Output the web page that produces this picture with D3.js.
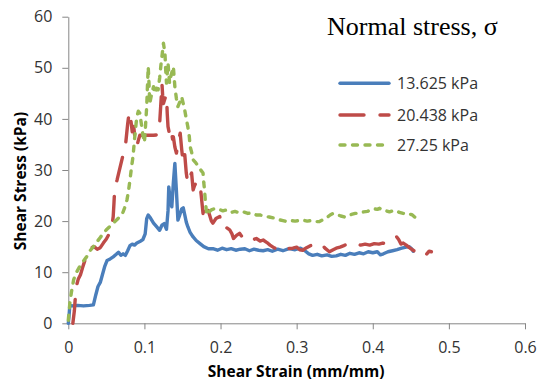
<!DOCTYPE html>
<html>
<head>
<meta charset="utf-8">
<script src="https://cdn.jsdelivr.net/npm/d3@7/dist/d3.min.js"></script>
<style>
  html, body { margin: 0; padding: 0; background: #fff; }
  svg { display: block; }
</style>
</head>
<body>
<svg id="chart" width="540" height="385"></svg>
<script>
// Shear stress vs shear strain for three normal stress levels
const seriesNames = ["13.625 kPa", "20.438 kPa", "27.25 kPa"];
const xTicks = [0, 0.1, 0.2, 0.3, 0.4, 0.5, 0.6];
const yTicks = [0, 10, 20, 30, 40, 50, 60];

// [shear strain (mm/mm), shear stress (kPa)]
const curve13625 = [
  [0,0],[0.001,1.5],[0.002,3.5],[0.006,3.4],[0.012,3.5],[0.02,3.4],[0.028,3.5],[0.033,3.6],
  [0.036,5.5],[0.039,7.2],[0.042,8.0],[0.045,9.6],[0.048,11.2],[0.051,12.3],[0.055,12.6],
  [0.059,13.0],[0.063,13.5],[0.066,13.9],[0.069,13.3],[0.072,13.6],[0.075,13.3],[0.078,14.2],
  [0.081,15.2],[0.084,15.5],[0.087,15.3],[0.090,15.7],[0.094,16.0],[0.098,16.4],[0.101,17.5],
  [0.103,20.5],[0.105,21.2],[0.108,20.6],[0.112,19.6],[0.116,18.9],[0.120,18.2],[0.123,19.2],
  [0.126,19.5],[0.129,18.4],[0.131,22.0],[0.132,26.7],[0.134,24.0],[0.136,22.8],[0.138,27.5],
  [0.140,31.3],[0.142,26.0],[0.144,20.2],[0.146,21.0],[0.149,22.4],[0.151,22.6],[0.153,21.2],
  [0.155,19.8],[0.157,18.9],[0.160,17.8],[0.164,16.9],[0.168,16.2],[0.173,15.6],[0.178,15.0],
  [0.184,14.6],[0.19,14.6],[0.196,14.3],[0.202,14.7],[0.208,14.4],[0.214,14.6],[0.22,14.3],
  [0.226,14.5],[0.232,14.6],[0.238,14.2],[0.244,14.5],[0.25,14.3],[0.256,14.2],[0.262,14.4],
  [0.268,14.1],[0.275,14.5],[0.282,14.2],[0.29,14.6],[0.298,14.4],[0.305,14.7],[0.31,14.3],
  [0.316,13.6],[0.321,13.3],[0.327,13.5],[0.333,13.2],[0.34,13.4],[0.346,13.1],[0.352,13.2],
  [0.358,13.5],[0.364,13.3],[0.37,13.7],[0.376,13.5],[0.382,13.8],[0.388,13.6],[0.394,14.0],
  [0.4,13.8],[0.406,14.0],[0.41,13.4],[0.414,13.6],[0.42,14.0],[0.426,14.2],[0.432,14.4],
  [0.438,14.7],[0.444,14.9],[0.448,15.0],[0.451,14.6],[0.453,14.1]
];

const curve20438 = [
  [0.006,0],[0.008,2.5],[0.009,4.6],[0.011,7.5],[0.013,8.6],[0.016,9.5],[0.019,11.0],[0.022,12.4],
  [0.026,13.2],[0.030,14.8],[0.034,15.0],[0.038,14.5],[0.042,14.8],[0.046,15.7],[0.050,16.5],
  [0.054,17.6],[0.057,18.6],[0.059,20.9],[0.060,23.5],[0.061,26.5],[0.064,28.0],[0.068,30.5],
  [0.072,33.0],[0.075,34.6],[0.078,39.0],[0.080,41.4],[0.082,40.0],[0.084,37.5],[0.086,38.5],
  [0.088,35.5],[0.090,34.6],[0.092,35.8],[0.094,36.8],[0.1,36.8],[0.106,36.8],[0.112,36.8],
  [0.118,36.9],[0.120,39.1],[0.122,44.0],[0.123,47.0],[0.124,44.5],[0.125,43.0],[0.127,44.0],
  [0.129,44.7],[0.130,41.0],[0.131,38.5],[0.133,37.0],[0.135,38.0],[0.137,36.0],[0.138,36.5],
  [0.140,34.5],[0.142,33.3],[0.144,35.0],[0.146,36.5],[0.147,37.2],[0.149,34.0],[0.151,31.3],
  [0.153,33.0],[0.155,29.4],[0.157,27.4],[0.159,28.5],[0.162,29.4],[0.164,26.1],[0.166,27.0],
  [0.169,27.8],[0.173,27.4],[0.175,24.5],[0.177,21.5],[0.180,23.5],[0.182,23.0],[0.185,21.5],
  [0.188,20.0],[0.190,19.6],[0.194,20.5],[0.199,20.9],[0.201,19.5],[0.203,18.6],[0.207,18.8],
  [0.212,18.3],[0.215,17.5],[0.217,16.6],[0.221,17.2],[0.225,17.6],[0.229,16.8],[0.234,16.0],
  [0.240,16.2],[0.247,16.6],[0.252,16.1],[0.256,16.3],[0.261,15.8],[0.265,15.3],[0.270,14.8],
  [0.276,14.5],[0.282,14.0],[0.288,14.6],[0.295,14.7],[0.300,14.9],[0.304,14.4],[0.308,14.3],
  [0.313,14.8],[0.318,15.2],[0.321,15.3],[0.326,15.8],[0.330,15.7],[0.334,15.2],[0.338,14.6],
  [0.343,14.0],[0.348,14.4],[0.352,14.7],[0.357,14.9],[0.362,15.2],[0.368,15.6],[0.373,15.8],
  [0.378,15.7],[0.384,15.3],[0.39,15.5],[0.396,15.3],[0.402,15.6],[0.408,15.5],[0.413,15.7],
  [0.418,15.6],[0.423,15.9],[0.428,16.5],[0.431,17.0],[0.434,16.4],[0.437,15.5],[0.440,15.7],
  [0.444,15.3],[0.448,14.8],[0.453,14.3],[0.458,13.8],[0.463,13.5],[0.468,13.0],[0.471,13.6],
  [0.474,14.1],[0.477,14.0]
];

const curve27250 = [
  [0,0.6],[0.002,3.9],[0.004,6.0],[0.007,8.5],[0.010,9.8],[0.015,11.1],[0.020,12.2],[0.024,13.0],
  [0.028,14.1],[0.033,15.0],[0.038,16.0],[0.042,16.8],[0.046,17.6],[0.050,18.3],[0.055,19.0],
  [0.059,19.6],[0.064,20.3],[0.068,20.9],[0.071,21.4],[0.074,22.6],[0.077,24.1],[0.079,25.8],
  [0.081,28.0],[0.083,30.5],[0.085,32.6],[0.087,36.0],[0.089,39.0],[0.090,40.4],[0.092,41.5],
  [0.094,41.1],[0.096,39.0],[0.098,36.8],[0.100,35.4],[0.101,37.5],[0.103,42.4],[0.104,46.5],
  [0.105,50.2],[0.106,47.0],[0.107,43.0],[0.109,44.5],[0.112,46.3],[0.114,45.0],[0.116,46.0],
  [0.118,45.7],[0.120,48.0],[0.122,51.0],[0.123,52.2],[0.125,54.8],[0.127,52.8],[0.128,49.5],
  [0.129,47.0],[0.131,50.9],[0.133,47.0],[0.135,48.5],[0.138,50.2],[0.140,46.3],[0.142,44.0],
  [0.144,42.4],[0.147,43.5],[0.149,44.3],[0.151,43.0],[0.153,41.7],[0.155,40.0],[0.157,38.5],
  [0.159,36.5],[0.160,34.6],[0.162,33.5],[0.164,32.0],[0.167,31.5],[0.171,30.7],[0.174,30.0],
  [0.177,29.4],[0.178,27.5],[0.179,26.1],[0.180,24.0],[0.181,22.5],[0.182,21.2],[0.185,21.8],
  [0.188,22.2],[0.193,22.5],[0.198,22.3],[0.203,22.0],[0.208,22.2],[0.214,21.7],[0.219,21.9],
  [0.225,21.6],[0.230,21.8],[0.236,21.5],[0.241,21.6],[0.247,21.2],[0.252,21.2],[0.258,20.9],
  [0.264,20.8],[0.270,20.6],[0.276,20.3],[0.282,20.1],[0.287,19.9],[0.293,20.1],[0.298,20.0],
  [0.303,20.1],[0.308,20.2],[0.314,20.0],[0.319,20.1],[0.325,19.9],[0.330,19.9],[0.335,20.3],
  [0.340,20.7],[0.344,21.2],[0.348,21.5],[0.353,21.3],[0.358,21.0],[0.363,20.8],[0.367,20.9],
  [0.372,21.3],[0.377,21.5],[0.383,21.6],[0.388,21.8],[0.393,21.9],[0.397,22.2],[0.402,22.4],
  [0.406,22.3],[0.409,22.5],[0.413,22.1],[0.418,22.0],[0.422,21.8],[0.426,22.0],[0.430,22.1],
  [0.435,21.7],[0.440,21.5],[0.444,21.6],[0.448,21.4],[0.452,21.2],[0.455,20.8],[0.457,20.6]
];

const curves = [curve13625, curve20438, curve27250];
const colors = ["#4a7ebb", "#be4b48", "#98b954"];
const dashes = [null, "24,16", "5,7.5"];

const svg = d3.select("#chart");
const font = "'Open Sans', 'Noto Sans', sans-serif";
const axisColor = "#868686";
const textColor = "#333";

const x = d3.scaleLinear().domain([0, 0.6]).range([68.3, 525]);
const y = d3.scaleLinear().domain([0, 60]).range([323.3, 16.7]);

// y axis
const yAxis = svg.append("g")
  .attr("transform", `translate(${x(0)},0)`)
  .call(d3.axisLeft(y).tickValues(yTicks).tickFormat(d3.format("d"))
    .tickSize(6).tickSizeOuter(0).tickPadding(10));
yAxis.select(".domain").attr("stroke", axisColor);
yAxis.selectAll(".tick line").attr("stroke", axisColor);
yAxis.selectAll(".tick text").attr("fill", textColor)
  .style("font-family", font).style("font-size", "16px");

// x axis
const xAxis = svg.append("g")
  .attr("transform", `translate(0,${y(0)})`)
  .call(d3.axisBottom(x).tickValues(xTicks).tickFormat(d => d === 0 ? "0" : d3.format(".1f")(d))
    .tickSize(6).tickSizeOuter(0).tickPadding(12));
xAxis.select(".domain").attr("stroke", axisColor);
xAxis.selectAll(".tick line").attr("stroke", axisColor);
xAxis.selectAll(".tick text").attr("fill", textColor)
  .style("font-family", font).style("font-size", "16px");

// curves (first series underneath)
const line = d3.line().x(d => x(d[0])).y(d => y(d[1]));
curves.forEach((c, i) => {
  svg.append("path")
    .datum(c)
    .attr("d", line)
    .attr("fill", "none")
    .attr("stroke", colors[i])
    .attr("stroke-width", 3.4)
    .attr("stroke-linejoin", "round")
    .attr("stroke-linecap", "round")
    .attr("stroke-dasharray", dashes[i]);
});

// axis titles
svg.append("text")
  .attr("x", (x(0) + x(0.6)) / 2 - 0.5).attr("y", 377)
  .attr("text-anchor", "middle")
  .attr("fill", "#000").attr("font-weight", "bold")
  .style("font-family", font).style("font-size", "15.5px")
  .text("Shear Strain (mm/mm)");

svg.append("text")
  .attr("transform", "translate(26,181) rotate(-90)")
  .attr("text-anchor", "middle")
  .attr("fill", "#000").attr("font-weight", "bold")
  .style("font-family", font).style("font-size", "15.5px")
  .text("Shear Stress (kPa)");

// legend title
svg.append("text")
  .attr("x", 327).attr("y", 35)
  .attr("fill", "#000")
  .style("font-family", "'Liberation Serif', 'Times New Roman', serif")
  .style("font-size", "26px")
  .text("Normal stress, σ");

// legend entries
const legendY = [83.3, 115, 145];
seriesNames.forEach((name, i) => {
  svg.append("line")
    .attr("x1", 340).attr("x2", 389)
    .attr("y1", legendY[i]).attr("y2", legendY[i])
    .attr("stroke", colors[i]).attr("stroke-width", 3.4)
    .attr("stroke-linecap", "round")
    .attr("stroke-dasharray", dashes[i]);
  svg.append("text")
    .attr("x", 397).attr("y", legendY[i]).attr("dy", "0.36em")
    .attr("fill", textColor)
    .style("font-family", font).style("font-size", "16px")
    .text(name);
});
</script>
</body>
</html>
